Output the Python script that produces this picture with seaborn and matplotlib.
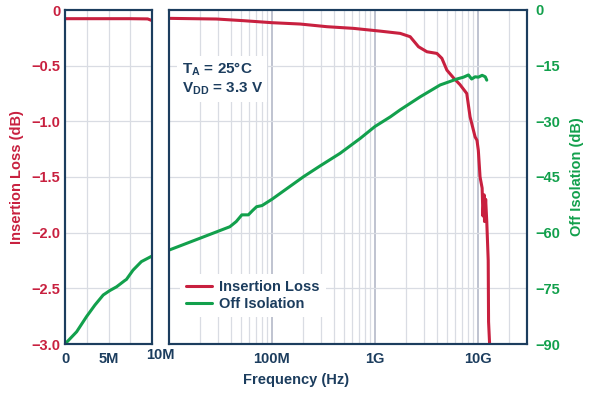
import numpy as np
import pandas as pd
import seaborn as sns
import matplotlib.pyplot as plt
from matplotlib.ticker import FixedLocator, FixedFormatter, NullLocator

RED = "#C8203F"
GREEN = "#12A04C"
NAVY = "#1C3D5E"
GRID_MINOR = "#D9DCE3"
GRID_MAJOR = "#B4B9C8"

# left panel (linear, 0..10 MHz)
lin_il_freq = [0, 2.5e6, 5e6, 7.5e6, 9.5e6, 10e6]
lin_il = [-0.078, -0.078, -0.078, -0.078, -0.08, -0.095]

lin_iso_freq = [0, 1.34e6, 2.48e6, 3.44e6, 4.39e6, 5.15e6, 5.92e6, 6.87e6,
                7.06e6, 7.82e6, 8.78e6, 10e6]
lin_iso = [-90, -86.7, -82.6, -79.5, -76.8, -75.6, -74.6, -72.9,
           -72.6, -70.1, -67.8, -66.3]

# right panel (log, 10 MHz..30 GHz)
log_il_freq = [1e7, 2.9e7, 5.3e7, 1e8, 1.88e8, 3.42e8, 6.2e8, 1.13e9, 1.76e9,
               2.2e9, 2.65e9, 3.2e9, 4.0e9, 4.47e9, 5.0e9, 5.8e9, 6.7e9, 7.8e9,
               8.4e9, 9.4e9, 9.8e9, 1.01e10, 1.05e10, 1.1e10, 1.12e10, 1.15e10,
               1.16e10, 1.19e10, 1.22e10, 1.26e10, 1.27e10, 1.3e10, 1.31e10]
log_il = [-0.075, -0.081, -0.096, -0.114, -0.126, -0.15, -0.165, -0.19, -0.21,
          -0.24, -0.33, -0.375, -0.39, -0.434, -0.54, -0.61, -0.67, -0.75,
          -0.96, -1.14, -1.17, -1.26, -1.50, -1.60, -1.85, -1.66,
          -1.90, -1.70, -1.90, -2.25, -2.80, -3.0, -3.2]

log_iso_freq = [1e7, 2e7, 3.9e7, 4.5e7, 5.1e7, 5.9e7, 6.5e7, 7.1e7, 8e7, 1e8,
                2.03e8, 2.94e8, 4.6e8, 7.2e8, 1e9, 1.41e9, 1.76e9, 2.75e9,
                4.3e9, 6.25e9, 7.25e9, 8.1e9, 8.7e9, 9.4e9, 1.01e10, 1.1e10,
                1.18e10, 1.22e10]
log_iso = [-64.7, -61.5, -58.4, -57.0, -55.2, -55.2, -54.0, -53.0, -52.7, -51.0,
           -44.9, -42.0, -38.6, -34.6, -31.4, -28.8, -26.9, -23.4,
           -20.2, -18.6, -18.1, -17.5, -18.6, -18.0, -18.1, -17.6,
           -18.0, -18.9]

il_ticks = [-3.0, -2.5, -2.0, -1.5, -1.0, -0.5, 0]
il_labels = ["\u22123.0", "\u22122.5", "\u22122.0", "\u22121.5", "\u22121.0", "\u22120.5", "0"]
iso_ticks = [-90, -75, -60, -45, -30, -15, 0]
iso_labels = ["\u221290", "\u221275", "\u221260", "\u221245", "\u221230", "\u221215", "0"]
freq_major = [1e8, 1e9, 1e10]
freq_labels = ["100M", "1G", "10G"]

FS = 10.5

sns.set_style("white")
plt.rcParams['font.family'] = ['Liberation Sans', 'DejaVu Sans']
plt.rcParams['font.weight'] = 'bold'
plt.rcParams['font.size'] = FS

W, H = 590, 395
fig = plt.figure(figsize=(W / 100, H / 100), dpi=100)
ax_l = fig.add_axes([65 / W, 1 - 344 / H, 87 / W, 334 / H])
ax_r = fig.add_axes([169 / W, 1 - 344 / H, 358 / W, 334 / H])
ax_r.set_xscale('log')
ax_l2 = ax_l.twinx()
ax_r2 = ax_r.twinx()


def style_box(ax):
    for s in ax.spines.values():
        s.set_color(NAVY)
        s.set_linewidth(1.5)
    ax.tick_params(length=0)


# left panel
for x in [2.5e6, 5e6, 7.5e6]:
    ax_l.axvline(x, color=GRID_MINOR, lw=0.9, zorder=0)
for y in il_ticks[1:-1]:
    ax_l.axhline(y, color=GRID_MINOR, lw=0.9, zorder=0)
sns.lineplot(x=lin_il_freq, y=lin_il, ax=ax_l, color=RED, lw=2.2, sort=False)
sns.lineplot(x=lin_iso_freq, y=lin_iso, ax=ax_l2, color=GREEN, lw=2.2, sort=False)

# right panel
minor = [m * 10 ** e for e in range(7, 11) for m in range(2, 10) if m * 10 ** e < 3e10]
for x in minor:
    ax_r.axvline(x, color=GRID_MINOR, lw=0.9, zorder=0)
for x in freq_major:
    ax_r.axvline(x, color=GRID_MAJOR, lw=1.2, zorder=0)
for y in il_ticks[1:-1]:
    ax_r.axhline(y, color=GRID_MINOR, lw=0.9, zorder=0)
sns.lineplot(x=log_il_freq, y=log_il, ax=ax_r, color=RED, lw=2.2, sort=False,
             label="Insertion Loss", legend=False)
sns.lineplot(x=log_iso_freq, y=log_iso, ax=ax_r2, color=GREEN, lw=2.2, sort=False,
             label="Off Isolation", legend=False)

# axis setup after plotting
ax_l.set_xlim(0, 1e7)
ax_l.set_ylim(-3, 0)
ax_l.set_yticks(il_ticks)
ax_l.set_yticklabels(il_labels, color=RED, fontweight='bold')
ax_l.set_xticks([0, 5e6])
ax_l.set_xticklabels(["0", "5M"], color=NAVY, fontweight='bold')
ax_l2.set_ylim(-90, 0)
ax_l2.set_yticks([])
ax_l.set_xlabel("")
ax_l.set_ylabel("Insertion Loss (dB)", color=RED, fontweight='bold', fontsize=FS, labelpad=5)

ax_r.set_xlim(1e7, 3e10)
ax_r.set_ylim(-3, 0)
ax_r.set_yticks(il_ticks)
ax_r.set_yticklabels([])
ax_r.xaxis.set_major_locator(FixedLocator(freq_major))
ax_r.xaxis.set_major_formatter(FixedFormatter(freq_labels))
ax_r.xaxis.set_minor_locator(NullLocator())
for t in ax_r.get_xticklabels():
    t.set_color(NAVY)
    t.set_fontweight('bold')
ax_r2.set_ylim(-90, 0)
ax_r2.set_yticks(iso_ticks)
ax_r2.set_yticklabels(iso_labels, color=GREEN, fontweight='bold')
ax_r2.set_ylabel("Off Isolation (dB)", color=GREEN, fontweight='bold', fontsize=FS, labelpad=7)
ax_r.set_xlabel("")
ax_r2.set_xlabel("")

for a in (ax_l, ax_l2, ax_r, ax_r2):
    style_box(a)
ax_l.tick_params(axis='x', pad=6)
ax_r.tick_params(axis='x', pad=6)
ax_r2.tick_params(axis='y', pad=6)

h1, l1 = ax_r.get_legend_handles_labels()
h2, l2 = ax_r2.get_legend_handles_labels()
leg = ax_r2.legend(h1 + h2, l1 + l2, loc='lower left', bbox_to_anchor=(0.01, 0.06),
                   frameon=True, facecolor='white', edgecolor='none', framealpha=1,
                   fancybox=False, handlelength=1.8, handletextpad=0.5,
                   labelspacing=0.2, borderpad=0.4, fontsize=FS)
for t in leg.get_texts():
    t.set_color(NAVY)
    t.set_fontweight('bold')

ax_r2.text(0.035, 0.85, "T$_\\mathregular{A}$ = 25°C\nV$_\\mathregular{DD}$ = 3.3 V",
           transform=ax_r2.transAxes, ha='left', va='top', color=NAVY,
           fontsize=11, fontweight='bold', linespacing=1.25,
           bbox=dict(facecolor='white', edgecolor='none', pad=3), zorder=10)

fig.text(160 / W, 1 - 355 / H, "10M", ha='center', va='center', color=NAVY,
         fontsize=FS, fontweight='bold')
fig.text(296 / W, 1 - 380 / H, "Frequency (Hz)", ha='center', va='center',
         color=NAVY, fontsize=FS, fontweight='bold')

fig.savefig("out.png", dpi=100)
